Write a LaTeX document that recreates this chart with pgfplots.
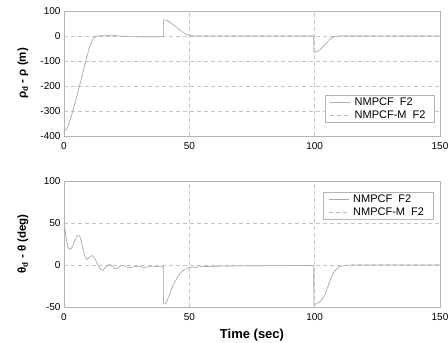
\documentclass[border=0pt]{standalone}
\usepackage{pgfplots}
\pgfplotsset{compat=1.18}
\usepackage{pgfplotstable}
\usepackage{fontspec}
\setmainfont{Liberation Sans}
\definecolor{curve}{HTML}{A8A8A8}
\definecolor{gridc}{HTML}{C4C4C4}
\definecolor{framec}{HTML}{B4B4B4}

\pgfplotstableread{
t a
0 -382
1 -372
2 -350
3 -318
4 -282
5 -245
6 -207
7 -168
8 -128
9 -88
10 -50
11 -22
12 -7
13 -1
14 1.5
15 2.5
17 3
20 2
22 0
25 -2
30 -3
35 -3
39.6 -3
39.7 65
40.5 64
41 62
42 57
43 50
44 42
45 34
46 26
47 18
48 11
49 6
50 3
51 1
52 0
60 0
99.6 0
99.7 -65
101 -62
102 -56
103 -46
104 -35
105 -24
106 -14
107 -7
108 -3
109 -1
110 0
150 0
}\toptable

\pgfplotstableread{
t a
0 50
0.5 40
1 29
1.5 22
2.2 18.5
3 20
4 27
5 33.5
5.8 35.5
6.5 33
7.5 20
8.5 9
9.3 6.5
10.5 10
11.4 11.5
12.5 7
13.5 0
14.5 -5
15.4 -6.5
16.5 -3
17.5 0
18.3 0.5
19.3 -2
20.5 -4.5
21.5 -3.5
22.5 -1
23.5 -0.5
25 -2.5
26.5 -3.5
28 -2
30 -1.5
32 -3
34 -2
36 -2
39.6 -2
39.7 -46
40.3 -46.5
41 -43
42 -36
43 -28
44 -21
45 -16
46 -11
47 -8
48 -5.5
49 -4
50 -3
55 -2
60 -1.5
70 -1
99.6 -0.5
99.7 -47
101 -46
102 -44
103 -41
104 -36
105 -28
106 -20
107 -12
108 -7
109 -4
110 -2
112 -0.5
115 0
150 0
}\bottable

\begin{document}
\begin{tikzpicture}
\pgfplotsset{
  common/.style={
    scale only axis,
    width=376pt,
    xmin=0, xmax=150,
    xtick={0,50,100,150},
    grid=major,
    major grid style={gridc, dash pattern=on 4pt off 3pt, line width=0.5pt},
    axis line style={framec, line width=0.5pt},
    major tick length=0pt,
    tick label style={font=\fontsize{10}{12}\selectfont, black},
    xticklabel style={yshift=-3pt},
    /pgf/number format/assume math mode=true,
    legend cell align=left,
    legend style={draw=framec, fill=white, font=\fontsize{11}{13}\selectfont,
      inner xsep=5pt, inner ysep=1pt, row sep=-1pt,
      nodes={inner xsep=4pt}},
    legend image code/.code={\draw[##1] (0pt,0pt) -- (20pt,0pt);},
    every axis plot/.append style={line width=0.6pt},
  },
}
\begin{axis}[common,
  at={(64pt,-136pt)}, anchor=south west,
  height=125pt,
  ymin=-400, ymax=100,
  ytick={-400,-300,-200,-100,0,100},
  ylabel={\textbf{ρ\textsubscript{d} - ρ (m)}},
  ylabel style={at={(axis description cs:-0.109,0.5)}, anchor=center, font=\fontsize{11.5}{13}\selectfont},
  legend style={at={(axis description cs:0.986,0.106)}, anchor=south east},
]
\addplot[curve, solid] table[x=t,y=a]{\toptable};
\addlegendentry{NMPCF~~F2}
\addplot[curve!80, dash pattern=on 4pt off 3pt] table[x=t,y=a]{\toptable};
\addlegendentry{NMPCF-M~~F2}
\end{axis}
\begin{axis}[common,
  at={(64pt,-307pt)}, anchor=south west,
  height=126pt,
  ymin=-50, ymax=100,
  ytick={-50,0,50,100},
  ylabel={\textbf{θ\textsubscript{d} - θ (deg)}},
  ylabel style={at={(axis description cs:-0.109,0.5)}, anchor=center, font=\fontsize{11.5}{13}\selectfont},
  xlabel={\textbf{Time (sec)}},
  xlabel style={font=\fontsize{13}{15}\selectfont, yshift=-2pt},
  legend style={at={(axis description cs:0.982,0.913)}, anchor=north east},
]
\addplot[curve, solid] table[x=t,y=a]{\bottable};
\addlegendentry{NMPCF~~F2}
\addplot[curve!80, dash pattern=on 4pt off 3pt] table[x=t,y=a]{\bottable};
\addlegendentry{NMPCF-M~~F2}
\end{axis}
\pgfresetboundingbox
\path (0,0) rectangle (448pt,-343pt);
\end{tikzpicture}
\end{document}
